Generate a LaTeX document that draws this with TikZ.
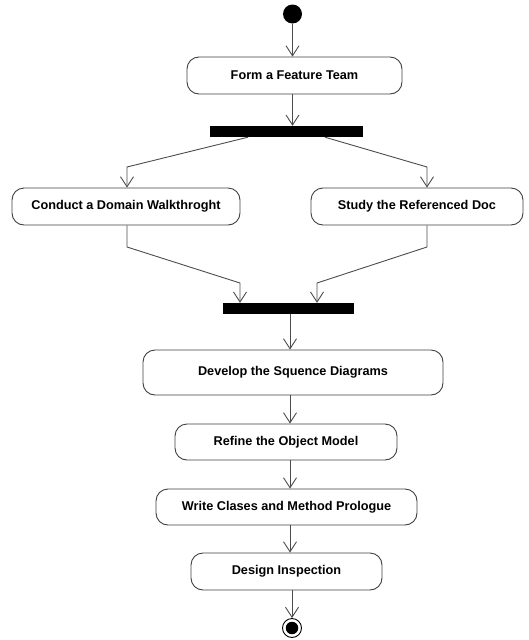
\documentclass[tikz,border=0pt]{standalone}
\usepackage{fontspec}
\setmainfont{Liberation Sans}
\usetikzlibrary{arrows.meta,calc}

\tikzset{
  activity/.style={draw=black!75, line width=0.9pt, rounded corners=12pt, fill=white,
    inner sep=0pt, font=\fontsize{12.7}{15}\selectfont\bfseries, text=black},
  syncbar/.style={fill=black, draw=none, inner sep=0pt},
  flow/.style={draw=black!70, line width=0.9pt, -{Straight Barb[length=10pt,width=13pt,line width=0.9pt]}}
}

\begin{document}
\begin{tikzpicture}[x=1pt,y=-1pt]
  \useasboundingbox (0,0) rectangle (528,640);

  % initial state
  \node[circle, fill=black, inner sep=0pt, minimum size=19pt] (start) at (292.5,14) {};

  % activities
  \node[activity, minimum width=215pt, minimum height=37pt] (form) at (294.5,75.5) {Form a Feature Team};
  \node[syncbar, minimum width=153pt, minimum height=11pt] (fork) at (286.5,131.5) {};
  \node[activity, minimum width=228pt, minimum height=37pt] (conduct) at (126,206.5) {Conduct a Domain Walkthroght};
  \node[activity, minimum width=212pt, minimum height=37pt] (study) at (417,206.5) {Study the Referenced Doc};
  \node[syncbar, minimum width=131pt, minimum height=11pt] (join) at (288.5,308.5) {};
  \node[activity, minimum width=300pt, minimum height=45pt] (develop) at (293,372.5) {Develop the Squence Diagrams};
  \node[activity, minimum width=222pt, minimum height=36pt] (refine) at (286,442) {Refine the Object Model};
  \node[activity, minimum width=261pt, minimum height=36pt] (write) at (286.5,507) {Write Clases and Method Prologue};
  \node[activity, minimum width=191pt, minimum height=37pt] (inspect) at (286.5,571.5) {Design Inspection};

  % final state
  \node[circle, draw=black, line width=0.9pt, fill=white, inner sep=0pt, minimum size=19pt] (final) at (292,628) {};
  \node[circle, fill=black, inner sep=0pt, minimum size=12.5pt] at (final) {};

  % bend points of the fork and join connectors
  \coordinate (fl) at (127,167);
  \coordinate (fr) at (427,167);
  \coordinate (jl1) at (127,247);
  \coordinate (jl2) at (240,283);
  \coordinate (jr1) at (427,247);
  \coordinate (jr2) at (317,283);

  % flows
  \draw[flow] (start) -- (start |- form.north);
  \draw[flow] (form.south -| start) -- (fork.north -| start);

  \draw[flow] (fork.south -| 248,0) -- (fl) -- (fl |- conduct.north);
  \draw[flow] (fork.south -| 325,0) -- (fr) -- (fr |- study.north);

  \draw[flow] (conduct.south -| jl1) -- (jl1) -- (jl2) -- (jl2 |- join.north);
  \draw[flow] (study.south -| jr1) -- (jr1) -- (jr2) -- (jr2 |- join.north);

  \draw[flow] (join.south -| 290,0) -- (develop.north -| 290,0);
  \draw[flow] (develop.south -| 290,0) -- (refine.north -| 290,0);
  \draw[flow] (refine.south -| 290,0) -- (write.north -| 290,0);
  \draw[flow] (write.south -| 290,0) -- (inspect.north -| 290,0);
  \draw[flow] (inspect.south -| final) -- (final.north);
\end{tikzpicture}
\end{document}
